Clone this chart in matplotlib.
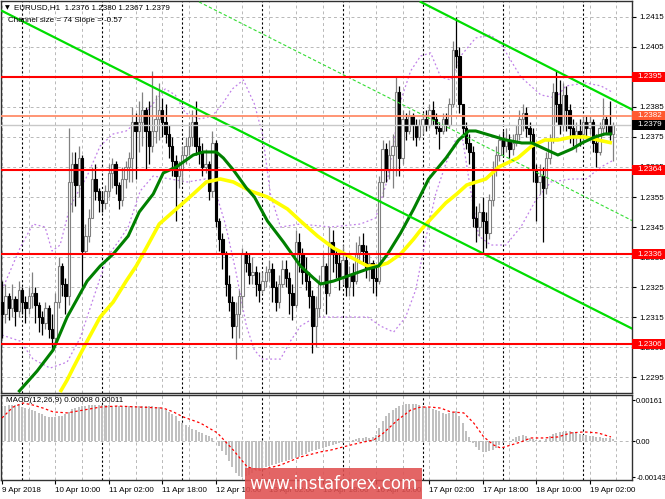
import numpy as np
import matplotlib
matplotlib.use('Agg')
import matplotlib.pyplot as plt
import matplotlib.transforms as mtransforms
from matplotlib.patches import Rectangle

W, H = 665, 499

# ---------------- data (EURUSD H1) ----------------
FIRST_OPEN = 1.2320
CLOSE = [
    1.2316, 1.2322, 1.2318, 1.2321, 1.2317, 1.2324, 1.2320, 1.2318,
    1.2322, 1.2323, 1.2319, 1.2315, 1.2313, 1.2318, 1.2311, 1.2308,
    1.2320, 1.2332, 1.2326, 1.2322, 1.2360, 1.2366, 1.2359, 1.2368,
    1.2337, 1.2342, 1.2348, 1.2361, 1.2357, 1.2354, 1.2353, 1.2357,
    1.2363, 1.2366, 1.2359, 1.2354, 1.2361, 1.2365, 1.2368, 1.2380,
    1.2377, 1.2380, 1.2384, 1.2377, 1.2372, 1.2377, 1.2381, 1.2384,
    1.2380, 1.2376, 1.2372, 1.2367, 1.2362, 1.2364, 1.2369, 1.2372,
    1.2375, 1.2380, 1.2372, 1.2370, 1.2365, 1.2366, 1.2357, 1.2373,
    1.2347, 1.2341, 1.2336, 1.2326, 1.2320, 1.2312, 1.2316, 1.2322,
    1.2336, 1.2333, 1.2329, 1.2330, 1.2326, 1.2324, 1.2327, 1.2330,
    1.2331, 1.2325, 1.2320, 1.2326, 1.2331, 1.2328, 1.2323, 1.2319,
    1.2340, 1.2336, 1.2330, 1.2327, 1.2322, 1.2312, 1.2318, 1.2326,
    1.2332, 1.2323, 1.2340, 1.2336, 1.2333, 1.2328, 1.2334, 1.2325,
    1.2329, 1.2327, 1.2336, 1.2339, 1.2337, 1.2331, 1.2333, 1.2328,
    1.2327, 1.2360, 1.2371, 1.2364, 1.2369, 1.2372, 1.2390, 1.2368,
    1.2381, 1.2377, 1.2382, 1.2379, 1.2375, 1.2379, 1.2381, 1.2379,
    1.2384, 1.2381, 1.2378, 1.2377, 1.2381, 1.2379, 1.2386, 1.2404,
    1.2402, 1.2386, 1.2378, 1.2373, 1.2370, 1.2348, 1.2345, 1.2350,
    1.2347, 1.2343, 1.2354, 1.2364, 1.2369, 1.2374, 1.2372, 1.2374,
    1.2371, 1.2373, 1.2376, 1.2381, 1.2383, 1.2378, 1.2376, 1.2364,
    1.2360, 1.2362, 1.2358, 1.2368, 1.2374, 1.2390, 1.2386, 1.2379,
    1.2389, 1.2384, 1.2378, 1.2375, 1.2377, 1.2376, 1.2380, 1.2378,
    1.2380, 1.2373, 1.2370, 1.2378, 1.2381, 1.2379, 1.2376, 1.2379,
]
HIGH = [
    1.2327, 1.2326, 1.2323, 1.2326, 1.2322, 1.2327, 1.2325, 1.2322,
    1.2325, 1.2330, 1.2325, 1.2320, 1.2317, 1.2320, 1.2319, 1.2316,
    1.2323, 1.2335, 1.2333, 1.2328, 1.2378, 1.2370, 1.2370, 1.2372,
    1.2369, 1.2346, 1.2351, 1.2365, 1.2366, 1.2358, 1.2357, 1.2359,
    1.2366, 1.2368, 1.2367, 1.2360, 1.2365, 1.2367, 1.2370, 1.2385,
    1.2383, 1.2387, 1.2390, 1.2385, 1.2387, 1.2397, 1.2389, 1.2393,
    1.2388, 1.2386, 1.2379, 1.2375, 1.2369, 1.2367, 1.2372, 1.2375,
    1.2380, 1.2384, 1.2387, 1.2375, 1.2373, 1.2371, 1.2367, 1.2377,
    1.2374, 1.2348, 1.2343, 1.2337, 1.2329, 1.2322, 1.2320, 1.2324,
    1.2338, 1.2337, 1.2336, 1.2335, 1.2332, 1.2330, 1.2330, 1.2332,
    1.2334, 1.2333, 1.2327, 1.2329, 1.2334, 1.2334, 1.2330, 1.2326,
    1.2344, 1.2343, 1.2338, 1.2335, 1.2330, 1.2324, 1.2322, 1.2329,
    1.2336, 1.2333, 1.2345, 1.2344, 1.2338, 1.2337, 1.2339, 1.2336,
    1.2332, 1.2333, 1.2340, 1.2342, 1.2343, 1.2339, 1.2336, 1.2334,
    1.2332, 1.2362, 1.2374, 1.2373, 1.2374, 1.2376, 1.2395, 1.2392,
    1.2384, 1.2383, 1.2384, 1.2383, 1.2381, 1.2381, 1.2383, 1.2384,
    1.2386, 1.2387, 1.2383, 1.2380, 1.2383, 1.2383, 1.2388, 1.2407,
    1.2415, 1.2405, 1.2386, 1.2380, 1.2376, 1.2372, 1.2352, 1.2353,
    1.2355, 1.2350, 1.2356, 1.2367, 1.2372, 1.2376, 1.2377, 1.2378,
    1.2376, 1.2376, 1.2379, 1.2384, 1.2386, 1.2385, 1.2380, 1.2378,
    1.2366, 1.2366, 1.2365, 1.2370, 1.2376, 1.2393, 1.2397, 1.2394,
    1.2393, 1.2392, 1.2386, 1.2381, 1.2380, 1.2381, 1.2382, 1.2382,
    1.2382, 1.2381, 1.2376, 1.2380, 1.2388, 1.2382, 1.2387, 1.2380,
]
LOW = [
    1.2308, 1.2313, 1.2314, 1.2315, 1.2312, 1.2315, 1.2316, 1.2313,
    1.2316, 1.2318, 1.2313, 1.2310, 1.2309, 1.2311, 1.2308, 1.2304,
    1.2306, 1.2318, 1.2322, 1.2316, 1.2319, 1.2350, 1.2352, 1.2355,
    1.2325, 1.2336, 1.2340, 1.2348, 1.2354, 1.2350, 1.2350, 1.2351,
    1.2355, 1.2358, 1.2356, 1.2351, 1.2352, 1.2358, 1.2360, 1.2360,
    1.2361, 1.2370, 1.2372, 1.2364, 1.2366, 1.2370, 1.2373, 1.2374,
    1.2375, 1.2373, 1.2368, 1.2362, 1.2347, 1.2358, 1.2360, 1.2366,
    1.2369, 1.2372, 1.2369, 1.2366, 1.2362, 1.2363, 1.2354, 1.2355,
    1.2345, 1.2337, 1.2331, 1.2322, 1.2317, 1.2308, 1.2301, 1.2308,
    1.2318, 1.2330, 1.2326, 1.2326, 1.2322, 1.2320, 1.2323, 1.2325,
    1.2327, 1.2320, 1.2317, 1.2318, 1.2325, 1.2325, 1.2316, 1.2314,
    1.2318, 1.2330, 1.2326, 1.2324, 1.2318, 1.2303, 1.2305, 1.2315,
    1.2325, 1.2316, 1.2322, 1.2330, 1.2328, 1.2324, 1.2326, 1.2322,
    1.2322, 1.2322, 1.2326, 1.2333, 1.2333, 1.2328, 1.2327, 1.2323,
    1.2322, 1.2326, 1.2355, 1.2360, 1.2361, 1.2358, 1.2362, 1.2362,
    1.2366, 1.2374, 1.2376, 1.2374, 1.2372, 1.2374, 1.2376, 1.2377,
    1.2378, 1.2379, 1.2376, 1.2371, 1.2376, 1.2377, 1.2378, 1.2385,
    1.2398, 1.2383, 1.2375, 1.2371, 1.2366, 1.2345, 1.2340, 1.2342,
    1.2336, 1.2338, 1.2341, 1.2352, 1.2362, 1.2367, 1.2369, 1.2370,
    1.2368, 1.2369, 1.2372, 1.2374, 1.2377, 1.2375, 1.2373, 1.2360,
    1.2347, 1.2356, 1.2340, 1.2356, 1.2366, 1.2373, 1.2380, 1.2376,
    1.2377, 1.2377, 1.2373, 1.2372, 1.2370, 1.2372, 1.2373, 1.2375,
    1.2376, 1.2370, 1.2365, 1.2369, 1.2376, 1.2376, 1.2374, 1.2367,
]

# moving averages and bands (bar index, price)
GREEN_MA = [(4.9, 1.2290), (10.5, 1.2297), (15.3, 1.2304), (19.5, 1.2315), (25.5, 1.2327),
            (29.4, 1.2332), (33.3, 1.2336), (37.8, 1.2342), (41.1, 1.2350), (45.3, 1.2356),
            (48.3, 1.2363), (52.2, 1.2365), (57.3, 1.2369), (60.3, 1.2370), (64.2, 1.2370),
            (66.3, 1.2368), (69.3, 1.2364), (73.2, 1.2358), (75.6, 1.2355), (79.5, 1.2347),
            (84.3, 1.2340), (89.4, 1.2332), (93.3, 1.2328), (95.4, 1.2326), (99.3, 1.2327),
            (104.4, 1.2329), (109.5, 1.2331), (112.8, 1.2332), (115.5, 1.2336), (119.4, 1.2343),
            (123.3, 1.2351), (127.8, 1.2361), (133.0, 1.2368), (136.8, 1.2374), (139.8, 1.2377),
            (141.9, 1.2377), (144.9, 1.2376), (147.9, 1.2375), (150.9, 1.2374), (155.7, 1.2373),
            (158.7, 1.2373), (162.6, 1.2371), (166.5, 1.2369), (170.7, 1.2371), (173.7, 1.2373),
            (177.6, 1.2375), (180.6, 1.2376), (182.7, 1.2376)]
YELLOW_MA = [(17.4, 1.2290), (19.5, 1.2294), (21.3, 1.2298), (25.5, 1.2307), (29.4, 1.2315),
             (33.3, 1.2320), (37.2, 1.2327), (40.2, 1.2332), (43.2, 1.2338), (47.1, 1.2346),
             (52.2, 1.2351), (57.3, 1.2356), (61.2, 1.2360), (65.4, 1.2361), (69.3, 1.2360),
             (74.4, 1.2357), (79.5, 1.2355), (85.5, 1.2351), (89.4, 1.2347), (94.5, 1.2342),
             (99.3, 1.2338), (104.4, 1.2335), (109.5, 1.2332), (112.5, 1.2332), (115.5, 1.2333),
             (119.4, 1.2336), (123.3, 1.2341), (125.4, 1.2344), (128.7, 1.2348), (132.9, 1.2353),
             (136.2, 1.2356), (139.2, 1.2359), (144.9, 1.2361), (148.8, 1.2365), (154.5, 1.2368),
             (158.7, 1.2372), (162.6, 1.2374), (166.5, 1.2374), (170.7, 1.2375), (174.6, 1.2375),
             (178.5, 1.2374), (182.7, 1.2373)]
BB_UPPER = [(0, 1.2324), (5.4, 1.2338), (9.3, 1.2346), (12.9, 1.2345), (15.0, 1.2337),
            (17.4, 1.2339), (20.4, 1.2352), (25.5, 1.2362), (29.4, 1.2372), (33.3, 1.2376),
            (37.2, 1.2377), (41.4, 1.2381), (45.9, 1.2387), (48.9, 1.2391), (51.9, 1.2389),
            (54.9, 1.2383), (59.4, 1.2381), (63.0, 1.2382), (66.0, 1.2386), (69.0, 1.2391),
            (72.3, 1.2394), (75.6, 1.2386), (78.0, 1.2376), (80.4, 1.2356), (83.4, 1.2345),
            (89.4, 1.2346), (98.4, 1.2345), (107.4, 1.2346), (111.9, 1.2348), (115.5, 1.2361),
            (119.4, 1.2387), (122.4, 1.2397), (125.4, 1.2402), (128.4, 1.2403), (131.4, 1.2395),
            (134.4, 1.2394), (137.4, 1.2402), (141.9, 1.2408), (146.4, 1.2409), (149.4, 1.2406),
            (155.4, 1.2395), (161.4, 1.2389), (165.9, 1.2388), (168.9, 1.2392), (174.9, 1.2393),
            (179.4, 1.2392), (182.7, 1.2390)]
BB_LOWER = [(0, 1.2309), (5.4, 1.2307), (9.3, 1.2301), (14.4, 1.2298), (19.5, 1.2300),
            (23.4, 1.2308), (27.3, 1.2321), (31.5, 1.2335), (35.4, 1.2341), (37.8, 1.2345),
            (41.4, 1.2357), (45.3, 1.2362), (50.4, 1.2361), (55.5, 1.2360), (60.9, 1.2361),
            (63.9, 1.2357), (66.9, 1.2346), (69.9, 1.2331), (73.2, 1.2312), (75.6, 1.2304),
            (78.0, 1.2301), (83.4, 1.2301), (86.4, 1.2307), (89.4, 1.2312), (93.9, 1.2315),
            (101.4, 1.2315), (109.5, 1.2315), (113.4, 1.2312), (117.3, 1.2310), (120.9, 1.2315),
            (123.9, 1.2324), (126.9, 1.2341), (129.9, 1.2356), (132.9, 1.2366), (135.9, 1.2374),
            (138.0, 1.2374), (140.4, 1.2357), (142.8, 1.2342), (146.4, 1.2339), (150.9, 1.2339),
            (155.4, 1.2345), (159.9, 1.2354), (164.4, 1.2360), (170.4, 1.2361), (174.9, 1.2361),
            (179.4, 1.2365), (182.7, 1.2367)]

# channel (trend lines anchored by two points)
CHANNEL_A = [(0, 1.2417), (189, 1.2311)]
CHANNEL_B = [(125.4, 1.2420), (189, 1.2384)]
CHANNEL_MID = [(59, 1.2420), (189, 1.2347)]

LEVELS_RED = [1.2395, 1.2364, 1.2336, 1.2306]
LEVEL_ORANGE = 1.2382
LAST_PRICE = 1.2379
PRICE_TICKS = [1.2295, 1.2305, 1.2315, 1.2325, 1.2335, 1.2345, 1.2355,
               1.2365, 1.2375, 1.2385, 1.2395, 1.2405, 1.2415]

# MACD(12,26,9) main histogram, units of 1e-5
MACD_HIST = [
    138, 140, 142, 142, 142, 141, 136, 132, 128, 122,
    118, 112, 106, 100, 96, 94, 95, 98, 100, 108, 116, 126,
    132, 136, 138, 140, 141, 142, 142, 142, 142, 141, 141, 140, 140, 140,
    139, 138, 138, 137, 138, 139, 140, 140, 139, 138, 136, 134, 132,
    124, 116, 106, 98, 80, 72, 62, 56, 48, 42, 36, 30, 24, 18, 10, 2,
    -20, -38, -56, -80, -104, -128, -140, -143, -140,
    -134, -126, -118, -112, -108, -104, -100, -96, -92, -86, -82, -78,
    -74, -70, -66, -62, -56, -50, -44, -40, -36, -32, -28, -24,
    -18, -14, -10, -8, -6, -4, -2, 4, 8, 10, 12, 14, 12, 16, 24,
    50, 80, 100, 112, 122, 132, 138, 142, 145, 146, 146, 145, 143, 140, 136,
    132, 128, 124, 118, 112, 108, 110, 116, 120, 100, 70, 40, 14, -8, -24,
    -36, -42, -43, -40, -36, -26, -16, -8, -2, 2, 6, 14, 20, 22, 20,
    10, 6, 4, 4, 2, 8, 20, 26, 30, 34, 36, 40, 38, 36,
    30, 26, 24, 22, 20, 18, 14, 14, 12, 12, 10, 8,
]
MACD_SIGNAL = [(0, 91), (3.3, 134), (6.3, 150), (9.3, 142), (12.3, 130), (15.3, 115),
               (19.5, 111), (24.3, 122), (29.4, 134), (34.5, 138), (41.4, 134), (48.3, 130),
               (51.3, 115), (54.3, 95), (59.4, 71), (64.5, 32), (69.3, -36), (73.5, -103),
               (77.4, -115), (83.4, -95), (89.4, -63), (95.4, -43), (98.4, -36), (104.4, -16),
               (108.3, -4), (111.3, 4), (114.3, 32), (118.5, 83), (122.4, 122), (125.4, 134),
               (128.4, 134), (131.4, 130), (134.4, 115), (138.3, 111), (141.3, 71), (144.3, 16),
               (147.3, -16), (149.4, -28), (152.4, -16), (155.4, -4), (158.4, 12), (162.3, 12),
               (166.5, 16), (170.4, 32), (174.3, 36), (178.5, 32), (182.4, 16)]

DATE_LABELS = [(0, '9 Apr 2018'), (16, '10 Apr 10:00'), (32, '11 Apr 02:00'),
               (48, '11 Apr 18:00'), (64, '12 Apr 10:00'), (80, '13 Apr 02:00'),
               (96, '13 Apr 18:00'), (112, '16 Apr 10:00'), (128, '17 Apr 02:00'),
               (144, '17 Apr 18:00'), (160, '18 Apr 10:00'), (176, '19 Apr 02:00')]
DAY_STARTS = [6, 30, 54, 78, 102, 126, 150, 174]

FS = 5.8  # small MT4-like font

# ---------------- figure ----------------
plt.rcParams['font.family'] = ['Liberation Sans', 'DejaVu Sans']
fig = plt.figure(figsize=(W / 100, H / 100), dpi=100)
fig.patch.set_facecolor('white')

ax = fig.add_axes([1 / W, 1 - 393 / H, 631 / W, 392 / H])
macd = fig.add_axes([1 / W, 1 - 480 / H, 631 / W, 85 / H])
XLIM = (-0.3, 188.7)
for a in (ax, macd):
    a.set_xlim(*XLIM)
    for s in a.spines.values():
        s.set_color('#303030')
        s.set_linewidth(1.0)
ax.set_ylim(1.22897, 1.24203)
macd.set_ylim(-0.00154, 0.001817)

# grid
for a in (ax, macd):
    for b in range(0, 189, 8):
        a.axvline(b, color='#b8b8b8', lw=0.7, dashes=(3, 3), zorder=1)
    for b in DAY_STARTS:
        a.axvline(b, color='#000000', lw=0.8, dashes=(2, 2), zorder=1)
for p in PRICE_TICKS:
    ax.axhline(p, color='#b8b8b8', lw=0.7, dashes=(3, 3), zorder=1)
macd.axhline(0, color='#b8b8b8', lw=0.7, dashes=(3, 3), zorder=1)

# bands
for band in (BB_UPPER, BB_LOWER):
    bx, by = zip(*band)
    ax.plot(bx, by, color='#c080e8', lw=0.9, ls=(0, (1.5, 2)), zorder=2)

# candles
closes = np.array(CLOSE)
opens = np.array([FIRST_OPEN] + CLOSE[:-1])
highs = np.maximum(np.array(HIGH), np.maximum(opens, closes))
lows = np.minimum(np.array(LOW), np.minimum(opens, closes))
xs = np.arange(len(closes))
up = closes >= opens
dn = ~up
ax.vlines(xs[up], lows[up], highs[up], color='#808080', lw=0.9, zorder=3)
ax.vlines(xs[dn], lows[dn], highs[dn], color='#000000', lw=0.9, zorder=3)
body_lo = np.minimum(opens, closes)
body_h = np.maximum(np.abs(closes - opens), 0.00002)
ax.bar(xs[up], body_h[up], bottom=body_lo[up], width=0.7, facecolor='white',
       edgecolor='#808080', lw=0.8, zorder=3.2)
ax.bar(xs[dn], body_h[dn], bottom=body_lo[dn], width=0.7, facecolor='black',
       edgecolor='black', lw=0.8, zorder=3.2)

# moving averages
gx, gy = zip(*YELLOW_MA)
ax.plot(gx, gy, color='#ffff00', lw=2.6, zorder=4, solid_capstyle='butt')
gx, gy = zip(*GREEN_MA)
ax.plot(gx, gy, color='#008000', lw=2.2, zorder=4.1, solid_capstyle='butt')

# channel
for ch in (CHANNEL_A, CHANNEL_B):
    cx, cy = zip(*ch)
    ax.plot(cx, cy, color='#00dd00', lw=1.6, zorder=4.5)
cx, cy = zip(*CHANNEL_MID)
ax.plot(cx, cy, color='#33dd33', lw=0.8, dashes=(3, 2), zorder=4.5)

# levels
for lv in LEVELS_RED:
    ax.axhline(lv, color='#ff0000', lw=1.5, zorder=5)
ax.axhline(LEVEL_ORANGE, color='#ff8c69', lw=1.3, zorder=5)
ax.axhline(LAST_PRICE, color='#c8c8c8', lw=1.0, zorder=4.8)

# price axis
ax.yaxis.tick_right()
ax.set_yticks(PRICE_TICKS)
ax.set_yticklabels(['%.4f' % p for p in PRICE_TICKS])
ax.tick_params(axis='y', labelsize=FS, length=3, width=0.8, pad=2, colors='black')
ax.set_xticks([])

trans = mtransforms.blended_transform_factory(ax.transAxes, ax.transData)
box_w = 34 / 631
box_h = 10 / 30000.0


def price_box(y, color, text):
    ax.add_patch(Rectangle((1.0, y - box_h / 2), box_w, box_h, transform=trans,
                           facecolor=color, edgecolor='none', clip_on=False, zorder=6))
    ax.text(1.0 + 5 / 631, y, text, transform=trans, color='white', fontsize=FS,
            va='center', ha='left', clip_on=False, zorder=7)


for lv in LEVELS_RED:
    price_box(lv, '#ff0000', '%.4f' % lv)
price_box(LEVEL_ORANGE, '#ff5a30', '%.4f' % LEVEL_ORANGE)
price_box(LAST_PRICE, '#000000', '%.4f' % LAST_PRICE)

# MACD
hist = np.array(MACD_HIST) * 1e-5
macd.bar(np.arange(len(hist)), hist, width=0.6, color='#c0c0c0', zorder=2)
sx, sy = zip(*MACD_SIGNAL)
macd.plot(sx, np.array(sy) * 1e-5, color='#ff0000', lw=0.9, ls=(0, (2, 2)), zorder=3)
macd.yaxis.tick_right()
macd.set_yticks([0.00161, 0.0, -0.00143])
macd.set_yticklabels(['0.00161', '0.00', '-0.00143'])
macd.tick_params(axis='y', labelsize=FS - 0.3, length=2, width=0.8, pad=1)
macd.set_xticks([b for b, _ in DATE_LABELS])
macd.set_xticklabels([t for _, t in DATE_LABELS])
macd.tick_params(axis='x', labelsize=FS, length=3, width=0.8, pad=2)
for lbl in macd.get_xticklabels():
    lbl.set_ha('left')

# header texts
fig.text(5 / W, 1 - 8 / H, '\u25bc', fontsize=4.5, family='DejaVu Sans', va='center')
fig.text(14 / W, 1 - 8 / H, 'EURUSD,H1  1.2376 1.2380 1.2367 1.2379', fontsize=FS,
         va='center')
fig.text(8 / W, 1 - 20 / H, 'Channel size = 74 Slope = -0.57', fontsize=FS, va='center')
fig.text(6 / W, 1 - 401 / H, 'MACD(12,26,9) 0.00008 0.00011', fontsize=FS, va='center')

# watermark
fig.patches.append(Rectangle((245 / W, 0), 177 / W, 31 / H, transform=fig.transFigure,
                             facecolor='#e05050', alpha=0.88, edgecolor='none', zorder=10))
fig.text(333 / W, 1 - 484 / H, 'www.instaforex.com', color='white', fontsize=12,
         family='DejaVu Sans', ha='center', va='center', zorder=11)

fig.savefig('out.png', dpi=100)
